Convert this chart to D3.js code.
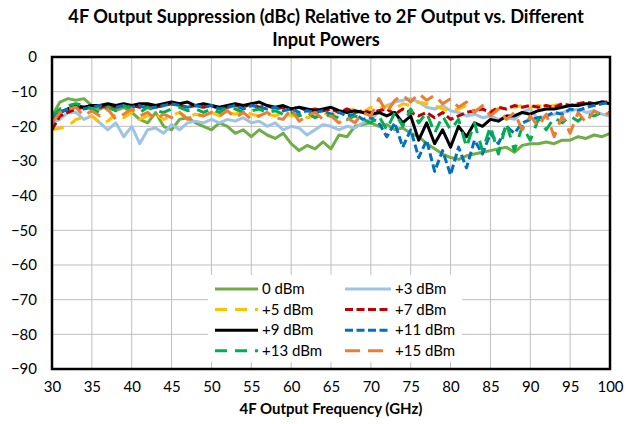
<!doctype html>
<html lang="en">
<head>
  <meta charset="utf-8">
  <title>4F Output Suppression</title>
  <style>
    body { margin: 0; background: #fff; font-family: 'Lato', sans-serif; }
    .grid line { stroke: #bfbfbf; stroke-width: 1; }
    .axis .domain { display: none; }
    .axis line { display: none; }
  </style>
</head>
<body>
  <svg width="639" height="424"></svg>
  <script src="https://d3js.org/d3.v7.min.js"></script>
  <script>
  // frequencies (GHz) and suppression values (dBc)
  var freqGHz = [30,31,32,33,34,35,36,37,38,39,40,41,42,43,44,45,46,47,48,49,
                 50,51,52,53,54,55,56,57,58,59,60,61,62,63,64,65,66,67,68,69,
                 70,71,72,73,74,75,76,77,78,79,80,81,82,83,84,85,86,87,88,89,
                 90,91,92,93,94,95,96,97,98,99,100];

  var p0 = [-17,-13,-12,-12.5,-12,-14,-15,-14,-15.5,-14.5,-16,-18,-19,-16,-20,-21,-18,-17.5,-19,-20,
            -21,-19,-20,-22,-21,-23,-21,-22.5,-23.5,-22,-25,-27,-25.5,-26.5,-24.5,-26.5,-22.5,-23,-20,-19.5,
            -19,-20,-19.5,-21,-20.5,-22,-23,-25,-26.5,-28,-29,-29.5,-28.5,-28,-27.5,-27,-26.5,-26,-27.5,-25.5,
            -25,-25,-24.5,-25,-24,-24,-23,-23.5,-22.5,-23,-22];
  var p3 = [-19,-18,-16,-16,-18,-17,-19,-21,-19,-23,-20,-25,-21,-20.5,-22,-19.5,-21,-19,-18.5,-19,
            -18,-19,-18,-18.5,-17.5,-19,-18.5,-20,-19,-21,-20,-20.5,-22.5,-21,-19.5,-20,-21,-20,-20.5,-19,
            -18,-16,-14,-13,-12.5,-12,-13,-14.5,-15,-14,-15.5,-16,-17,-16.5,-17.5,-17,-18,-17.5,-18,-16,
            -15,-18,-17,-16.5,-16,-15.5,-15,-16,-15.5,-16.5,-17];
  var p5 = [-21,-20.5,-20,-18,-17.5,-17,-19,-18.5,-16.5,-17.5,-16,-18,-17,-16.5,-18,-17,-16,-17.5,-16.5,-17,
            -16,-17,-16,-16.5,-15.5,-16.5,-17,-16.5,-17,-16,-17,-16.5,-17.5,-17,-16,-17,-16,-15.5,-15,-16,
            -14.5,-15,-14,-15,-13.5,-14,-13,-13.5,-14,-15,-15.5,-15,-14,-15.5,-14.5,-15.5,-15,-14,-14.5,-14,
            -14.5,-14,-14.5,-14,-13.5,-14,-13.5,-13,-13.5,-13,-13.5];
  var p7 = [-21,-17,-16,-15,-14.5,-14,-14.5,-14,-14.5,-14,-14,-14.5,-14,-14.5,-14,-13.5,-14,-14.5,-14,-14.5,
            -14,-15,-14.5,-14,-14.5,-13.5,-14.5,-14,-15,-14.5,-15,-14.5,-15.5,-15,-15.5,-15,-16,-15,-16,-15.5,
            -16,-15.5,-15,-16.5,-15,-16,-17,-16,-17.5,-16,-18,-17,-16,-15.5,-15,-16,-14.5,-15,-14,-14.5,
            -14,-14.5,-14,-14.5,-13.5,-14,-13.5,-13,-13.5,-13,-13];
  var p9 = [-17,-16,-15,-14,-14.5,-14,-14,-13.5,-14,-13.5,-14,-13.5,-13.5,-14,-13.5,-13,-13.5,-13,-14,-13.5,
            -14,-14.5,-14,-13.5,-14,-13.5,-13,-14,-14.5,-14,-15,-14.5,-15,-15.5,-15,-14.5,-15.5,-16,-15.5,-16,
            -16.5,-16,-17,-16,-19,-17,-24,-19,-25,-21,-26,-20,-23,-19,-20,-18,-18.5,-17,-17,-16,
            -16.5,-15.5,-15,-15,-14.5,-14,-14,-13.5,-13.5,-13,-13.5];
  var p11 = [-18,-16,-15,-14.5,-15,-14.5,-14,-15,-14.5,-14,-14.5,-14,-15,-14.5,-14,-13.5,-14,-14.5,-14,-14.5,
             -14,-15,-14.5,-14,-15,-14,-14.5,-15,-14.5,-15.5,-15,-16,-15.5,-16,-15.5,-16.5,-16,-17,-16.5,-18,
             -17.5,-19,-23,-19,-26,-21,-29,-24,-33,-27,-34,-26,-32,-24,-28,-22,-25,-20,-22,-19,
             -18,-17.5,-17,-16,-16.5,-15,-15.5,-14.5,-14,-13.5,-13];
  var p13 = [-17,-15,-14,-13.5,-14,-15,-16,-14.5,-15.5,-14,-15,-16,-14.5,-15.5,-16,-15,-14.5,-15.5,-15,-16,
             -15,-16,-14.5,-15,-16,-15.5,-15,-16,-15.5,-16.5,-16,-17,-16,-17.5,-16.5,-17,-17.5,-18,-17,-18,
             -19,-17,-21,-16,-20,-15,-19,-16,-22,-17,-21,-18,-26,-19,-27,-20,-28,-19,-27,-20,
             -24,-18,-21,-17.5,-19,-17,-18.5,-16.5,-17,-16,-16];
  var p15 = [-19,-16,-15,-14.5,-17,-15.5,-17,-15,-18,-16.5,-15,-17,-16,-18,-16.5,-17.5,-16,-18,-16.5,-17,
             -16,-17,-15.5,-17.5,-16,-18,-17,-16,-17.5,-18,-15,-18.5,-17,-16,-18,-17,-19,-17.5,-19,-16,
             -17,-12,-16,-12.5,-11,-13,-10.5,-12.5,-11,-13.5,-12,-14.5,-13,-16,-14,-17,-15,-18,-16,-21,
             -17,-20,-16.5,-23,-17,-22,-16,-19,-15.5,-17,-16];

  var seriesNames = ["0 dBm", "+3 dBm", "+5 dBm", "+7 dBm", "+9 dBm", "+11 dBm", "+13 dBm", "+15 dBm"];
  var seriesValues = [p0, p3, p5, p7, p9, p11, p13, p15];
  var xTicks = [30,35,40,45,50,55,60,65,70,75,80,85,90,95,100];
  var yTicks = [0,-10,-20,-30,-40,-50,-60,-70,-80,-90];

  // styles
  var colors = ["#70ad47", "#9dc3e6", "#ffc000", "#c00000", "#000000", "#0070c0", "#00b050", "#ed7d31"];
  var dashes = [null, null, "12,8", "8,3.5", null, "8,3.5", "12,8", "15,8"];

  var svg = d3.select("svg"),
      margin = {top: 57, right: 29, bottom: 55, left: 52},
      width = +svg.attr("width") - margin.left - margin.right,
      height = +svg.attr("height") - margin.top - margin.bottom,
      g = svg.append("g").attr("transform", "translate(" + margin.left + "," + margin.top + ")");

  var x = d3.scaleLinear().domain([30, 100]).range([0, width]);
  var y = d3.scaleLinear().domain([-90, 0]).range([height, 0]);

  // title
  var title = svg.append("text")
      .attr("text-anchor", "middle")
      .attr("font-size", 18.25)
      .attr("font-weight", "bold")
      .attr("fill", "#000");
  title.append("tspan").attr("x", 326).attr("y", 23)
      .text("4F Output Suppression (dBc) Relative to 2F Output vs. Different");
  title.append("tspan").attr("x", 326).attr("y", 46).text("Input Powers");

  // gridlines
  g.append("g").attr("class", "grid")
    .selectAll("line").data(xTicks).enter().append("line")
      .attr("x1", function(d) { return x(d); })
      .attr("x2", function(d) { return x(d); })
      .attr("y1", 0).attr("y2", height);
  g.append("g").attr("class", "grid")
    .selectAll("line").data(yTicks).enter().append("line")
      .attr("x1", 0).attr("x2", width)
      .attr("y1", function(d) { return y(d); })
      .attr("y2", function(d) { return y(d); });

  // axes
  g.append("g")
      .attr("class", "axis")
      .attr("transform", "translate(0," + height + ")")
      .call(d3.axisBottom(x).tickValues(xTicks).tickSize(0).tickPadding(12))
      .selectAll("text")
      .attr("font-family", "Lato, sans-serif")
      .attr("font-size", 15)
      .attr("fill", "#000");

  g.append("g")
      .attr("class", "axis")
      .call(d3.axisLeft(y).tickValues(yTicks).tickSize(0).tickPadding(15))
      .selectAll("text")
      .attr("font-family", "Lato, sans-serif")
      .attr("font-size", 15)
      .attr("fill", "#000");

  // x axis title
  svg.append("text")
      .attr("x", margin.left + width / 2)
      .attr("y", 414)
      .attr("text-anchor", "middle")
      .attr("font-size", 15)
      .attr("font-weight", "bold")
      .text("4F Output Frequency (GHz)");

  // series
  svg.append("defs").append("clipPath").attr("id", "clip")
    .append("rect").attr("width", width).attr("height", height);

  var line = d3.line()
      .x(function(d) { return x(d[0]); })
      .y(function(d) { return y(d[1]); });

  g.append("g")
      .attr("clip-path", "url(#clip)")
    .selectAll("path")
    .data(seriesValues)
    .enter().append("path")
      .attr("fill", "none")
      .attr("stroke", function(d, i) { return colors[i]; })
      .attr("stroke-width", 3)
      .attr("stroke-linejoin", "round")
      .attr("stroke-dasharray", function(d, i) { return dashes[i]; })
      .attr("d", function(vals) {
        return line(vals.map(function(v, j) { return [freqGHz[j], v]; }));
      });

  // plot border
  g.append("rect")
      .attr("width", width)
      .attr("height", height)
      .attr("fill", "none")
      .attr("stroke", "#000")
      .attr("stroke-width", 2.5);

  // legend
  var legend = svg.append("g").attr("transform", "translate(208,275)");
  legend.append("rect")
      .attr("width", 254)
      .attr("height", 87)
      .attr("fill", "#fff");

  var item = legend.selectAll("g.item")
      .data(seriesNames)
      .enter().append("g")
        .attr("class", "item")
        .attr("transform", function(d, i) {
          return "translate(" + (i % 2 === 0 ? 7 : 137) + "," + (14 + Math.floor(i / 2) * 20.6) + ")";
        });

  item.append("line")
      .attr("x1", 0)
      .attr("x2", function(d, i) { return i % 2 === 0 ? 43 : 46; })
      .attr("stroke", function(d, i) { return colors[i]; })
      .attr("stroke-width", 3)
      .attr("stroke-dasharray", function(d, i) { return dashes[i]; });

  item.append("text")
      .attr("x", function(d, i) { return i % 2 === 0 ? 47 : 50; })
      .attr("dy", "0.35em")
      .attr("font-size", 15)
      .text(function(d) { return d; });
  </script>
</body>
</html>
